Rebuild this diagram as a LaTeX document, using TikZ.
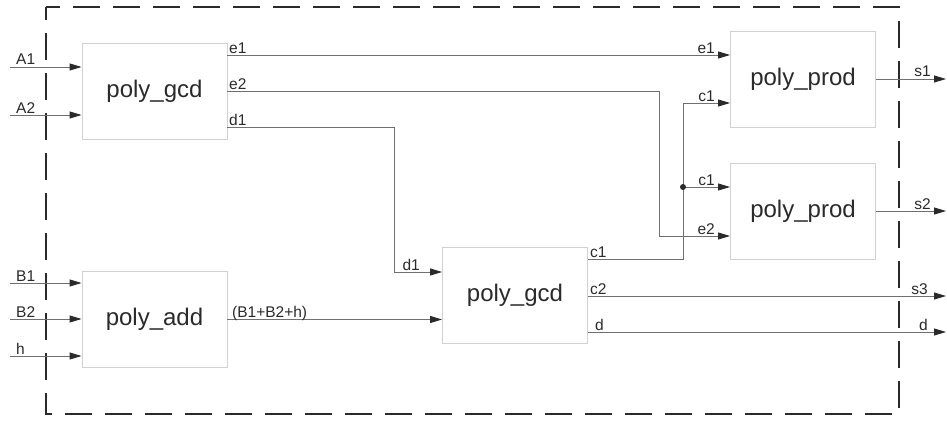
\documentclass[tikz,border=0pt]{standalone}
\usepackage{fontspec}
\setmainfont{Liberation Sans}
\usetikzlibrary{arrows.meta}
\definecolor{wirec}{HTML}{707070}
\definecolor{boxc}{HTML}{D2D2D2}
\definecolor{inkc}{HTML}{2A2A2A}
\begin{document}
\begin{tikzpicture}[x=1pt,y=-1pt,
  block/.style={draw=boxc, line width=0.9pt, fill=white, minimum width=145pt,
    minimum height=96pt, inner sep=0pt, font=\fontsize{24}{27}\selectfont, text=inkc},
  wire/.style={draw=wirec, line width=0.9pt},
  sig/.style={wire, -{Triangle[length=12pt,width=7pt,color=inkc]}},
  lbl/.style={font=\fontsize{15.5}{17}\selectfont, text=inkc, inner sep=0pt},
  frame/.style={draw=inkc, line width=1.3pt, dash pattern=on 27pt off 13pt, dash phase=14pt}]
\useasboundingbox (0,0) rectangle (947,420);

% module boundary
\draw[frame] (46,7) rectangle (899,414);

% blocks
\node[block] (gcd1)  at (154.5,91)  {poly\_gcd};
\node[block] (add)   at (154.5,319.5) {poly\_add};
\node[block] (gcd2)  at (515,295.5) {poly\_gcd};
\node[block] (prod1) at (803,79)    {poly\_prod};
\node[block] (prod2) at (803,211)   {poly\_prod};

% external inputs and outputs
\coordinate (inA1) at (10,67);
\coordinate (inA2) at (10,115);
\coordinate (inB1) at (10,283);
\coordinate (inB2) at (10,319);
\coordinate (inH)  at (10,356);
\coordinate (outS1) at (946,79);
\coordinate (outS2) at (946,211);
\coordinate (outS3) at (946,296);
\coordinate (outD)  at (946,332);

% signal rows and routing columns
\coordinate (rE1)   at (0,55);
\coordinate (rE2)   at (0,91);
\coordinate (rD1)   at (0,127);
\coordinate (rP1C1) at (0,103);
\coordinate (rP2C1) at (0,187);
\coordinate (rP2E2) at (0,236);
\coordinate (rG2D1) at (0,272);
\coordinate (rC1)   at (0,259);
\coordinate (rC2)   at (0,296);
\coordinate (rD)    at (0,332);
\coordinate (xD1) at (394,0);
\coordinate (xE2) at (659,0);
\coordinate (xC1) at (683,0);

% inputs
\draw[sig] (inA1) -- (gcd1.west |- inA1);
\draw[sig] (inA2) -- (gcd1.west |- inA2);
\draw[sig] (inB1) -- (add.west |- inB1);
\draw[sig] (inB2) -- (add.west |- inB2);
\draw[sig] (inH)  -- (add.west |- inH);

% internal connections
\draw[sig] (gcd1.east |- rE1) -- (prod1.west |- rE1);
\draw[sig] (gcd1.east |- rE2) -| (xE2 |- rP2E2) -- (prod2.west |- rP2E2);
\draw[sig] (gcd1.east |- rD1) -| (xD1 |- rG2D1) -- (gcd2.west |- rG2D1);
\draw[sig] (add.east) -- (gcd2.west |- add.east);
\draw[sig] (gcd2.east |- rC1) -| (xC1 |- rP1C1) -- (prod1.west |- rP1C1);
\draw[sig] (xC1 |- rP2C1) -- (prod2.west |- rP2C1);
\fill[inkc] (xC1 |- rP2C1) circle (3pt);

% outputs
\draw[sig] (gcd2.east |- rC2) -- (outS3);
\draw[sig] (gcd2.east |- rD) -- (outD);
\draw[sig] (prod1.east) -- (outS1);
\draw[sig] (prod2.east) -- (outS2);

% signal names
\node[lbl, anchor=base west] (tA1) at (16,65)  {A1};
\node[lbl, anchor=base west] (tA2) at (16,113) {A2};
\node[lbl, anchor=base west] (tB1) at (16,281) {B1};
\node[lbl, anchor=base west] (tB2) at (16,317) {B2};
\node[lbl, anchor=base west] (tH)  at (16,354) {h};
\node[lbl, anchor=base west] (tE1o) at (229,53)  {e1};
\node[lbl, anchor=base west] (tE2o) at (229,89)  {e2};
\node[lbl, anchor=base west] (tD1o) at (229,125) {d1};
\node[lbl, anchor=base west] (tSum) at (232,317) {(B1+B2+h)};
\node[lbl, anchor=base east] (tD1i) at (420,270) {d1};
\node[lbl, anchor=base west] (tC1o) at (590,257) {c1};
\node[lbl, anchor=base west] (tC2o) at (590,294) {c2};
\node[lbl, anchor=base west] (tDo)  at (595,330) {d};
\node[lbl, anchor=base east] (tE1i) at (715,53)  {e1};
\node[lbl, anchor=base east] (tC1i) at (715,101) {c1};
\node[lbl, anchor=base east] (tC1j) at (715,185) {c1};
\node[lbl, anchor=base east] (tE2i) at (715,234) {e2};
\node[lbl, anchor=base east] (tS1) at (931,77)  {s1};
\node[lbl, anchor=base east] (tS2) at (931,209) {s2};
\node[lbl, anchor=base east] (tS3) at (928,294) {s3};
\node[lbl, anchor=base east] (tD)  at (928,330) {d};
\end{tikzpicture}
\end{document}
